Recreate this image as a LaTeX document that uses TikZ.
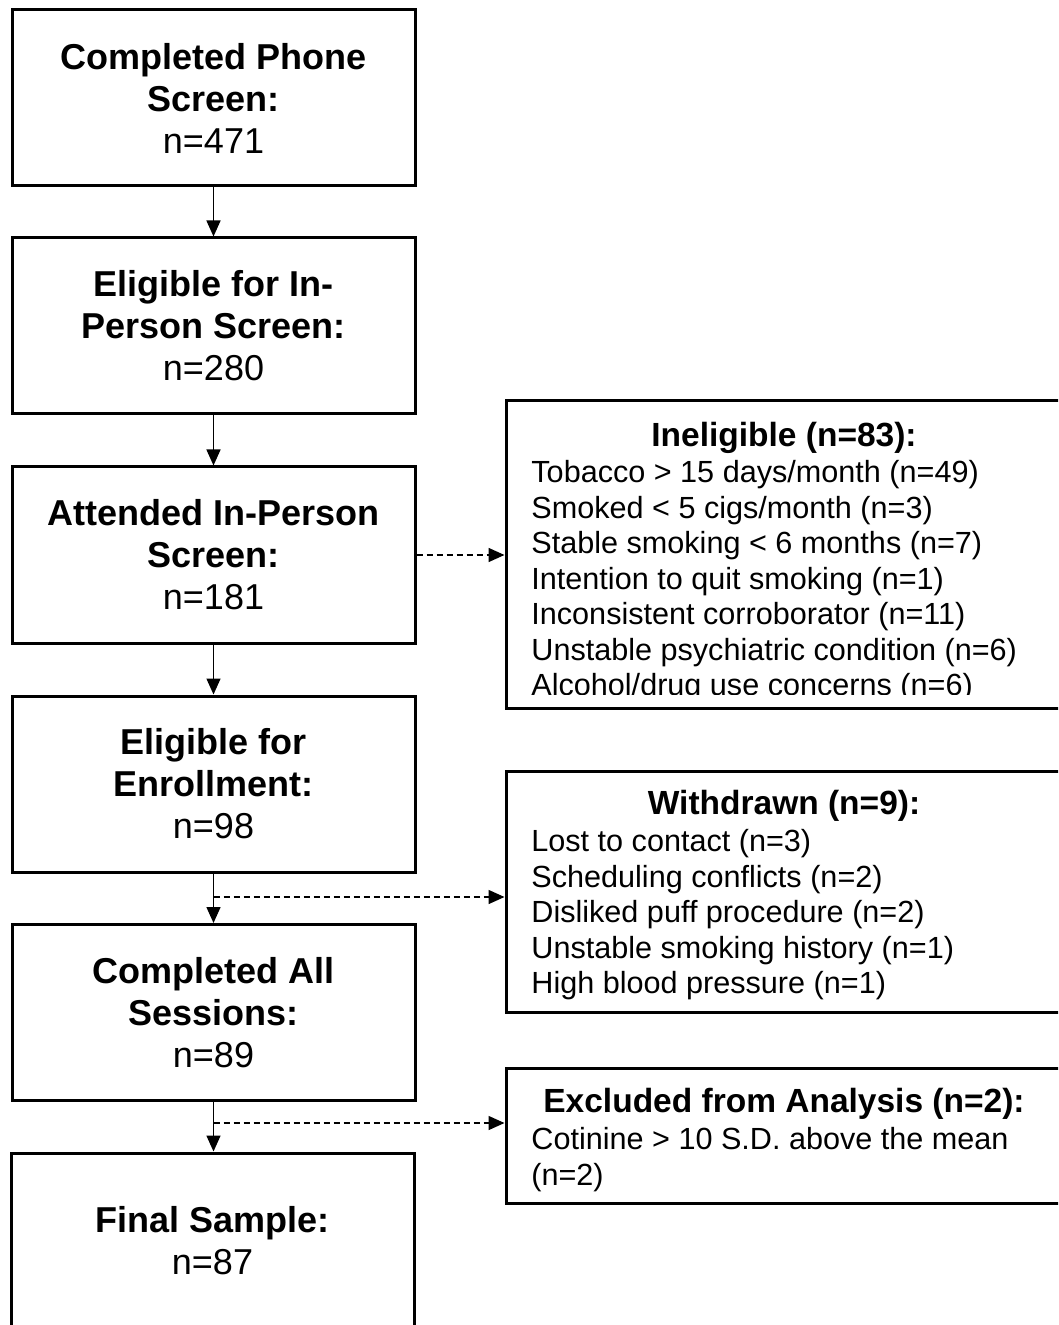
\documentclass[tikz,border=0pt]{standalone}
\usepackage{fontspec}
\setmainfont{Liberation Sans}
\usetikzlibrary{arrows.meta,calc}
\tikzset{
  lbox/.style={draw, line width=1.5pt, minimum width=201.5pt, minimum height=88pt,
    align=center, inner sep=0pt, font=\fontsize{18}{21}\selectfont},
  rbox/.style={draw, line width=1.5pt, minimum width=278pt, inner sep=0pt},
  rhead/.style={inner sep=0pt, anchor=base, font=\bfseries\fontsize{16.75}{20}\selectfont},
  rline/.style={inner sep=0pt, anchor=base west, font=\fontsize{15.3}{17.75}\selectfont},
  arr/.style={line width=0.75pt, -{Triangle[length=8pt,width=7pt]}},
  darr/.style={line width=0.75pt, dash pattern=on 3pt off 2pt, -{Triangle[length=8pt,width=7pt]}},
}
\begin{document}
\begin{tikzpicture}[x=0.5pt,y=-0.5pt]
\useasboundingbox (0,0) rectangle (1058,1325);
\fill[white] (0,0) rectangle (1058,1325);
\clip (0,0) rectangle (1058,1325);

% left column
\node[lbox] (b1) at (213.5,98) {\textbf{Completed Phone}\\\textbf{Screen:}\\n=471};
\node[lbox] (b2) at (213.5,326) {\textbf{Eligible for In-}\\\textbf{Person Screen:}\\n=280};
\node[lbox] (b3) at (213.5,555) {\textbf{Attended In-Person}\\\textbf{Screen:}\\n=181};
\node[lbox] (b4) at (213.5,784) {\textbf{Eligible for}\\\textbf{Enrollment:}\\n=98};
\node[lbox] (b5) at (213.5,1012.5) {\textbf{Completed All}\\\textbf{Sessions:}\\n=89};
\node[lbox] (b6) at (212.5,1241) {\textbf{Final Sample:}\\n=87};

% right boxes
\node[rbox, minimum height=153.5pt] (inel) at (784,554.5) {};
\node[rbox, minimum height=120.5pt] (wd) at (784,891.5) {};
\node[rbox, minimum height=67.5pt] (exc) at (784,1135.5) {};

% right box texts
\node[rhead] (h1) at (784,446.7) {Ineligible (n=83):};
\begin{scope}
\clip (506,401) rectangle (1062,694);
\foreach \t [count=\i from 0] in {Tobacco > 15 days/month (n=49),Smoked < 5 cigs/month (n=3),Stable smoking < 6 months (n=7),Intention to quit smoking (n=1),Inconsistent corroborator (n=11),Unstable psychiatric condition (n=6),Alcohol/drug use concerns (n=6)}
  \node[rline] (i\i) at (531,482.7+35.5*\i) {\t};
\end{scope}

\node[rhead] (h2) at (784,814.7) {Withdrawn (n=9):};
\foreach \t [count=\i from 0] in {Lost to contact (n=3),Scheduling conflicts (n=2),Disliked puff procedure (n=2),Unstable smoking history (n=1),High blood pressure (n=1)}
  \node[rline] (w\i) at (531,851.7+35.5*\i) {\t};

\node[rhead] (h3) at (784,1112.7) {Excluded from Analysis (n=2):};
\node[rline] (e0) at (531,1149.7) {Cotinine > 10 S.D. above the mean};
\node[rline] (e1) at (531,1185.2) {(n=2)};

% connectors
\draw[arr] (b1.south) -- (b2.north);
\draw[arr] (b2.south) -- (b3.north);
\draw[arr] (b3.south) -- (b4.north);
\draw[arr] (b4.south) -- (b5.north);
\draw[arr] (b5.south) -- (b6.north -| b5.south);

\draw[darr] (b3.east) -- (b3.east -| inel.west);
\coordinate (j1) at (213.5,897);
\coordinate (j2) at (213.5,1123);
\draw[darr] (j1) -- (j1 -| wd.west);
\draw[darr] (j2) -- (j2 -| exc.west);
\end{tikzpicture}
\end{document}
